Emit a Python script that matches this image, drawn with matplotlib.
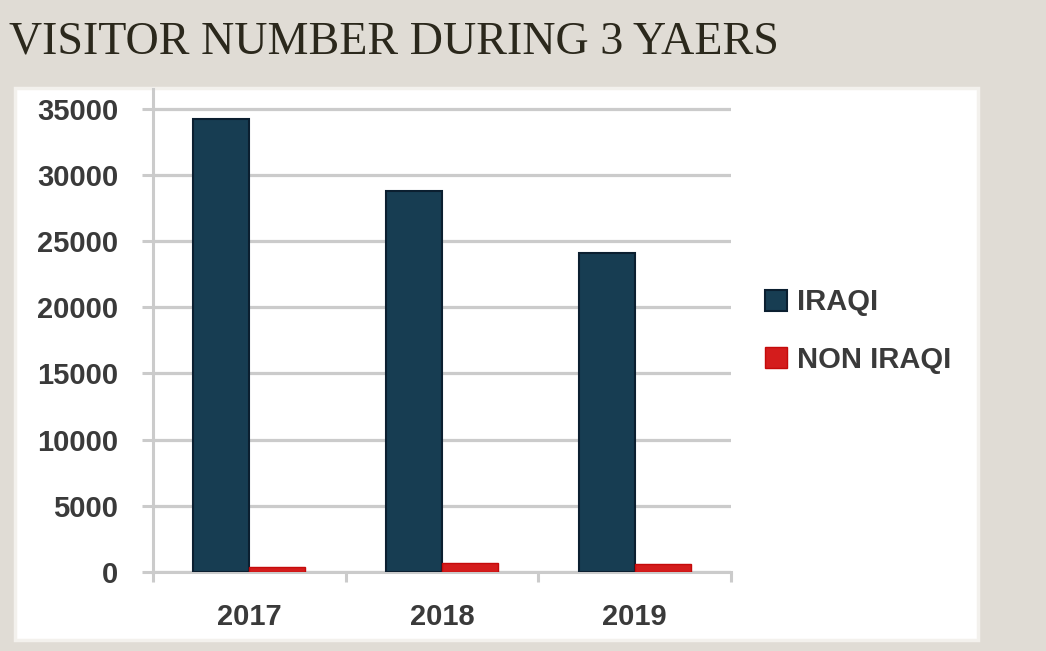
"""Grouped bar chart of visitor numbers over three years."""

import matplotlib

matplotlib.use("Agg")
import matplotlib.pyplot as plt
import numpy as np
from matplotlib.patches import Rectangle

YEARS = ["2017", "2018", "2019"]
IRAQI = [34200, 28800, 24100]
NON_IRAQI = [350, 650, 600]
Y_TICKS = [0, 5000, 10000, 15000, 20000, 25000, 30000, 35000]
SERIES_LABELS = ["IRAQI", "NON IRAQI"]
TITLE = "VISITOR NUMBER DURING 3 YAERS"

W, H = 1046, 651
PAGE_BG = "#e0dcd5"
DARK = "#173d52"
DARK_EDGE = "#0b1f30"
RED = "#d41c1c"
RED_EDGE = "#c40a0a"
AXIS_GREY = "#cbcbcb"
TEXT = "#3a3a3a"


def px_x(x):
    return x / W


def px_y(y):
    return 1 - y / H


def main() -> None:
    fig = plt.figure(figsize=(W / 100, H / 100), dpi=100)
    fig.patch.set_facecolor(PAGE_BG)

    # white chart panel, kept behind the axes
    panel = Rectangle(
        (px_x(15), px_y(640)), px_x(978 - 15), (640 - 88) / H,
        transform=fig.transFigure, facecolor="white", edgecolor="#f3f1ed",
        linewidth=2.5, zorder=-10,
    )
    fig.patches.append(panel)

    fig.text(px_x(9), px_y(53), TITLE, family="Liberation Serif", fontsize=33.1,
             color="#2b281c", va="baseline", ha="left")

    ax = fig.add_axes([px_x(153), px_y(572), px_x(731 - 153), (572 - 88.7) / H])
    ax.set_facecolor("none")

    x = np.arange(len(YEARS))
    width = 0.29
    ax.bar(x - width / 2, IRAQI, width, color=DARK, edgecolor=DARK_EDGE,
           linewidth=1.5, label=SERIES_LABELS[0], zorder=3)
    ax.bar(x + width / 2, NON_IRAQI, width, color=RED, edgecolor=RED_EDGE,
           linewidth=1.0, label=SERIES_LABELS[1], zorder=3)

    ax.set_xlim(-0.5, len(YEARS) - 0.5)
    ax.set_ylim(0, 36500)

    ax.set_yticks(Y_TICKS)
    ax.set_yticklabels([str(v) for v in Y_TICKS])
    ax.yaxis.grid(True, color=AXIS_GREY, linewidth=2.3, zorder=0)
    ax.set_axisbelow(True)

    ax.set_xticks(np.arange(-0.5, len(YEARS), 1.0))
    ax.set_xticks(x, minor=True)
    ax.set_xticklabels([])
    ax.set_xticklabels(YEARS, minor=True)

    ax.tick_params(axis="y", length=8, width=2.2, color=AXIS_GREY, pad=17,
                   labelsize=21, labelcolor=TEXT)
    ax.tick_params(axis="x", which="major", length=7.5, width=2.2,
                   color=AXIS_GREY)
    ax.tick_params(axis="x", which="minor", length=0, pad=22, labelsize=21,
                   labelcolor=TEXT)
    for lbl in ax.get_yticklabels() + ax.get_xticklabels(minor=True):
        lbl.set_fontweight("bold")
        lbl.set_family("Liberation Sans")

    for side in ("top", "right"):
        ax.spines[side].set_visible(False)
    for side in ("left", "bottom"):
        ax.spines[side].set_color(AXIS_GREY)
        ax.spines[side].set_linewidth(2.2)

    handles, labels = ax.get_legend_handles_labels()
    fig.legend(
        handles, labels, loc="center left",
        bbox_to_anchor=(px_x(765), px_y(331)),
        frameon=False, borderpad=0, borderaxespad=0,
        handlelength=0.75, handleheight=0.75, handletextpad=0.35,
        labelspacing=1.0,
        prop={"family": "Liberation Sans", "weight": "bold", "size": 21},
        labelcolor=TEXT,
    )

    fig.savefig("out.png", dpi=100, facecolor=PAGE_BG)
    plt.close(fig)


if __name__ == "__main__":
    main()
